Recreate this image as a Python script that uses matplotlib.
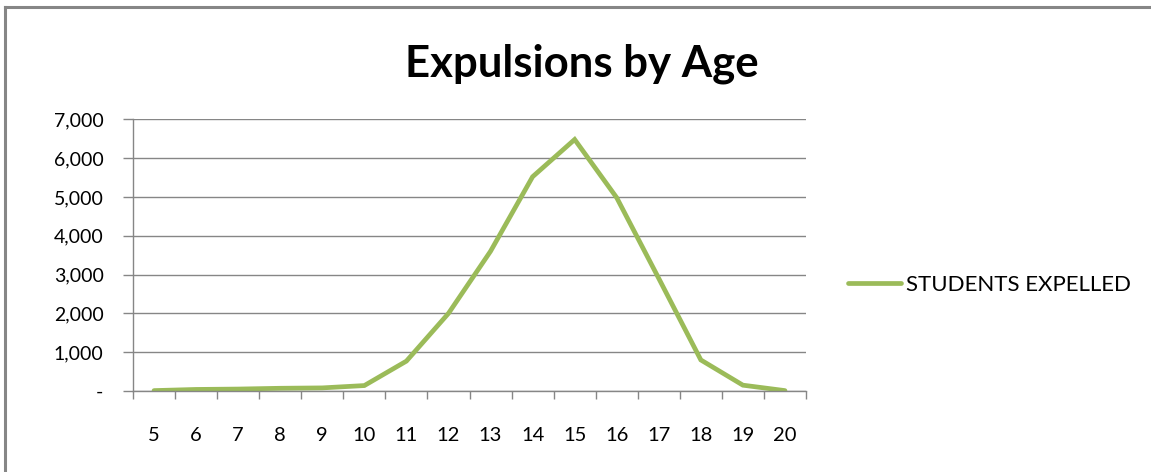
import matplotlib.pyplot as plt
from matplotlib.lines import Line2D
from matplotlib.ticker import FuncFormatter
import numpy as np

# Data
ages = ['5', '6', '7', '8', '9', '10', '11', '12', '13', '14', '15', '16', '17', '18', '19', '20']
expelled = [10, 40, 50, 70, 80, 140, 770, 2000, 3600, 5520, 6480, 4980, 2900, 800, 150, 10]

plt.rcParams['font.family'] = ['Lato', 'DejaVu Sans']

W, H = 1151, 472
fig = plt.figure(figsize=(W / 100, H / 100), dpi=100)
ax = fig.add_axes([133 / W, 1 - 391 / H, (806 - 133) / W, (391 - 119.3) / H])

x = np.arange(len(ages))
ax.plot(x, expelled, color='#9BBB59', lw=3.4, solid_joinstyle='miter',
        solid_capstyle='round', label='STUDENTS EXPELLED')

ax.set_xlim(-0.5, len(ages) - 0.5)
ax.set_ylim(0, 7000)
ax.set_yticks(range(0, 7001, 1000))
ax.yaxis.set_major_formatter(FuncFormatter(lambda v, p: '-' if v == 0 else f'{int(v):,}'))
ax.grid(axis='y', color='#868686', lw=1)
ax.set_axisbelow(True)

# category ticks between labels, labels centred
ax.set_xticks(np.arange(-0.5, len(ages)), labels=[''] * (len(ages) + 1))
ax.set_xticks(x, labels=ages, minor=True)
ax.tick_params(axis='x', which='major', length=6, width=1, color='#868686')
ax.tick_params(axis='x', which='minor', length=0, pad=26, labelsize=14.5)
ax.tick_params(axis='y', length=7.2, width=1, color='#868686', pad=14, labelsize=14)

for s in ['top', 'right']:
    ax.spines[s].set_visible(False)
for s in ['left', 'bottom']:
    ax.spines[s].set_color('#868686')
    ax.spines[s].set_linewidth(1)

fig.text(581.5 / W, 1 - 76 / H, 'Expulsions by Age', ha='center', va='baseline',
         fontsize=31.5, fontweight='bold')

ax.legend(loc='center left', bbox_to_anchor=(848 / W, 1 - 285 / H),
          bbox_transform=fig.transFigure, frameon=False, fontsize=16,
          handlelength=2.4, handletextpad=0.2, borderaxespad=0, borderpad=0)

# chart border (cropped: only top and left visible)
fig.add_artist(Line2D([5 / W, 1], [1 - 7 / H, 1 - 7 / H], color='#868686', lw=2.2,
                      transform=fig.transFigure))
fig.add_artist(Line2D([5 / W, 5 / W], [0, 1 - 7 / H], color='#868686', lw=2.2,
                      transform=fig.transFigure))

fig.savefig('out.png', dpi=100)
